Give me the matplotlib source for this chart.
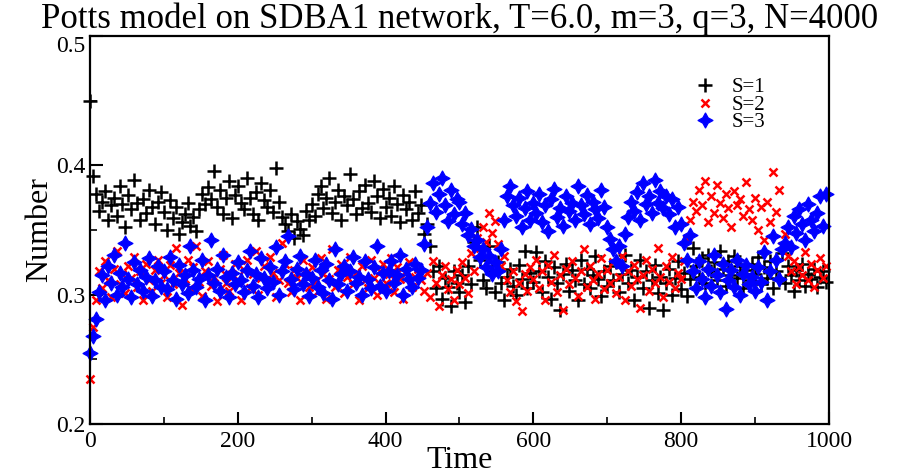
import numpy as np
import matplotlib
matplotlib.use("Agg")
import matplotlib.pyplot as plt
from matplotlib.ticker import MultipleLocator

time = np.arange(0, 1000, 4)

s1_pm = [
    450, 392, 378, 365, 372, 380, 358, 369, 375, 361, 384, 370, 352, 377, 366, 389, 371, 358, 374, 363, 381, 368, 355, 372, 379,
    364, 350, 373, 359, 368, 347, 356, 362, 371, 353, 360, 349, 366, 378, 370, 383, 374, 396, 368, 381, 362, 375, 388, 359, 377,
    384, 371, 366, 390, 375, 362, 379, 358, 386, 373, 368, 381, 364, 398, 372, 360, 355, 349, 362, 344, 357, 351, 346, 365, 358,
    370, 361, 378, 384, 367, 375, 390, 363, 372, 381, 358, 376, 369, 393, 374, 362, 380, 367, 385, 371, 364, 388, 376, 359, 382,
    368, 375, 361, 384, 370, 356, 377, 366, 372, 358, 380, 363, 369, 347, 355, 338, 318, 305, 322, 297, 313, 306, 291, 318, 309,
    302, 315, 294, 322, 308, 341, 352, 327, 311, 305, 338, 318, 302, 325, 309, 296, 314, 320, 307, 300, 323, 312, 334, 305, 317,
    310, 333, 318, 302, 326, 314, 297, 321, 309, 288, 316, 324, 303, 319, 311, 296, 327, 308, 320, 305, 315, 330, 312, 299, 318,
    307, 322, 311, 325, 302, 316, 331, 309, 319, 296, 314, 327, 305, 318, 290, 311, 323, 301, 314, 288, 309, 320, 300, 313, 326,
    304, 317, 299, 312, 336, 322, 314, 328, 309, 331, 318, 325, 311, 334, 320, 307, 326, 315, 330, 313, 322, 305, 319, 311, 324,
    316, 329, 308, 321, 313, 326, 305, 318, 312, 332, 309, 322, 315, 303, 319, 311, 324, 307, 316, 312, 320, 306, 314, 318, 310,
]

s2_pm = [
    235, 275, 296, 318, 305, 326, 311, 298, 320, 334, 308, 316, 301, 322, 313, 329, 306, 318, 296, 324, 311, 303, 319, 327, 309,
    315, 298, 323, 308, 336, 317, 292, 312, 327, 305, 321, 338, 310, 299, 318, 326, 307, 314, 295, 320, 331, 309, 303, 316, 324,
    311, 296, 319, 327, 305, 316, 334, 300, 313, 322, 308, 329, 317, 298, 311, 340, 324, 309, 302, 319, 313, 296, 327, 315, 306,
    321, 310, 303, 328, 316, 297, 312, 335, 306, 319, 324, 301, 314, 329, 308, 317, 296, 322, 311, 305, 327, 313, 300, 318, 324,
    309, 316, 328, 302, 321, 312, 297, 318, 325, 306, 314, 320, 311, 303, 317, 298, 326, 309, 291, 315, 322, 304, 312, 296, 319,
    308, 325, 313, 301, 332, 318, 344, 336, 352, 341, 363, 348, 357, 339, 322, 330, 311, 302, 318, 295, 309, 287, 316, 303, 321,
    312, 327, 305, 318, 296, 323, 310, 331, 302, 315, 288, 320, 308, 326, 313, 299, 318, 335, 306, 322, 311, 297, 316, 328, 304,
    319, 309, 325, 301, 314, 330, 296, 318, 307, 323, 312, 290, 315, 327, 303, 320, 309, 336, 314, 298, 322, 310, 329, 305, 317,
    312, 326, 343, 358, 372, 365, 381, 369, 388, 356, 376, 363, 385, 371, 359, 378, 367, 352, 380, 369, 374, 361, 387, 366, 358,
    375, 350, 368, 342, 372, 356, 395, 364, 381, 338, 347, 330, 318, 326, 308, 321, 315, 333, 311, 324, 306, 319, 328, 313, 322,
]

s3_pm = [
    255, 268, 281, 302, 315, 296, 322, 309, 331, 300, 317, 306, 340, 312, 298, 325, 308, 319, 303, 314, 328, 299, 311, 322, 306,
    318, 304, 329, 311, 297, 323, 308, 315, 301, 338, 319, 306, 312, 327, 296, 315, 342, 309, 320, 303, 331, 314, 298, 317, 308,
    325, 311, 302, 319, 334, 307, 316, 298, 328, 313, 305, 321, 310, 337, 300, 318, 326, 345, 312, 304, 320, 330, 308, 316, 299,
    313, 327, 306, 319, 301, 324, 311, 297, 335, 308, 316, 322, 303, 318, 329, 309, 314, 300, 326, 312, 305, 321, 338, 307, 317,
    303, 318, 326, 309, 315, 331, 300, 320, 312, 306, 324, 313, 319, 339, 352, 371, 386, 364, 378, 390, 369, 357, 381, 362, 374,
    372, 355, 363, 346, 351, 338, 342, 329, 335, 321, 330, 316, 325, 318, 335, 358, 376, 384, 369, 361, 375, 352, 367, 380, 358,
    371, 363, 378, 356, 369, 349, 374, 382, 360, 367, 353, 376, 365, 371, 358, 384, 369, 362, 377, 355, 372, 366, 359, 381, 368,
    352, 343, 335, 326, 338, 322, 347, 360, 372, 365, 379, 358, 386, 370, 376, 363, 389, 371, 380, 367, 376, 362, 374, 352, 368,
    355, 340, 327, 346, 318, 305, 326, 312, 298, 320, 307, 331, 315, 302, 324, 289, 311, 319, 306, 327, 300, 316, 323, 308, 314,
    303, 321, 310, 333, 296, 318, 345, 327, 312, 335, 340, 352, 337, 361, 348, 366, 355, 342, 370, 358, 349, 363, 376, 353, 378,
]

labels = ["S=1", "S=2", "S=3"]
colors = ["black", "red", "blue"]
yticks = [0.2, 0.3, 0.4, 0.5]

s1 = np.array(s1_pm) / 1000
s2 = np.array(s2_pm) / 1000
s3 = np.array(s3_pm) / 1000

plt.rcParams['font.family'] = ['Liberation Serif', 'DejaVu Serif']

fig = plt.figure(figsize=(9.06, 4.75), dpi=100)
ax = fig.add_axes([0.0993, 0.1074, 0.8157, 0.8168])

ax.plot(time, s1, linestyle='none', marker='+', ms=10, mew=1.8, color=colors[0],
        label=labels[0], clip_on=False)
ax.plot(time, s2, linestyle='none', marker='x', ms=5.5, mew=1.8, color=colors[1],
        label=labels[1], clip_on=False)
ax.plot(time, s3, linestyle='none', marker=(4, 1, 0), ms=11, mew=0.8, color=colors[2],
        label=labels[2], clip_on=False)

ax.set_xlim(0, 1000)
ax.set_ylim(0.2, 0.5)
ax.xaxis.set_major_locator(MultipleLocator(200))
ax.xaxis.set_minor_locator(MultipleLocator(100))
ax.set_yticks(yticks)
ax.yaxis.set_minor_locator(MultipleLocator(0.05))
ax.tick_params(which='both', direction='in', top=False, right=False, labelsize=17)
ax.tick_params(axis='x', pad=5)
ax.tick_params(axis='y', pad=3)
ax.tick_params(which='major', length=9, width=1.5)
ax.tick_params(which='minor', length=5, width=1.2)
for sp in ax.spines.values():
    sp.set_linewidth(1.6)

# top label sits just below the frame corner in the original
ax.get_yticklabels()[-1].set_va('top')

ax.set_xlabel("Time", fontsize=23, labelpad=-4)
ax.set_ylabel("Number", fontsize=23, labelpad=2)
ax.set_title("Potts model on SDBA1 network, T=6.0, m=3, q=3, N=4000", fontsize=25, pad=3)

ax.legend(loc='upper left', bbox_to_anchor=(0.798, 0.93), frameon=False, fontsize=15,
          handlelength=1.0, handletextpad=0.8, labelspacing=-0.1, borderpad=0.2)

fig.savefig("out.png", dpi=100)
